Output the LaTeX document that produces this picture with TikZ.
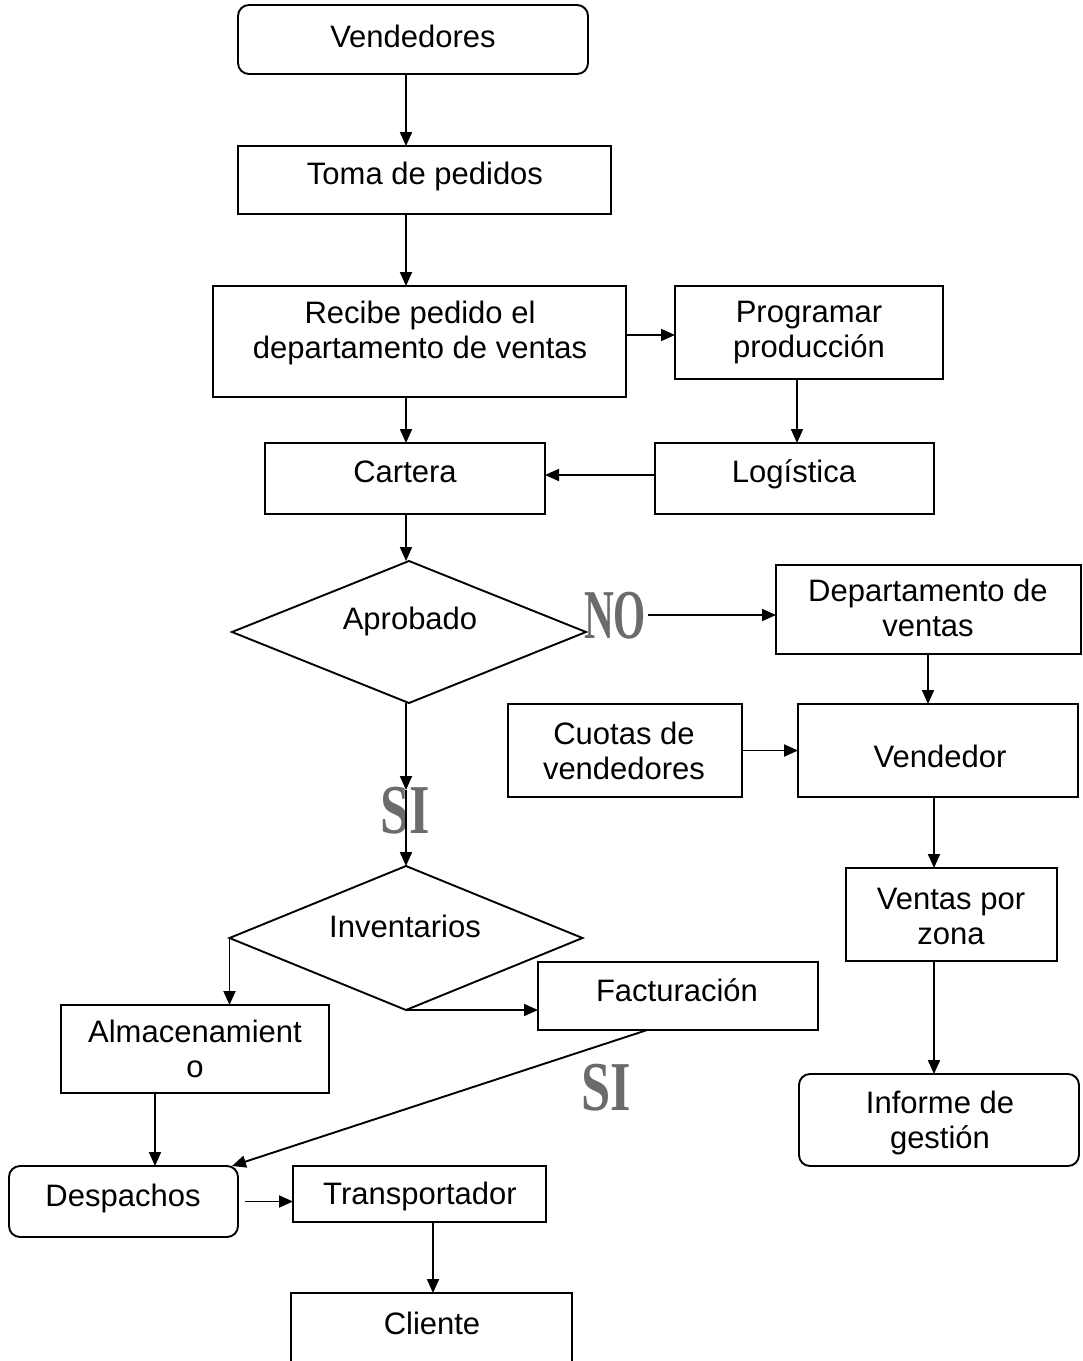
\documentclass[tikz,border=0pt]{standalone}
\usepackage{fontspec}
\usepackage{graphicx}
\setmainfont{Liberation Sans}
\newfontfamily\wafont{Liberation Serif}
\usetikzlibrary{arrows.meta,shapes.geometric,calc}
\newcommand\wart[2]{\scalebox{#2}[1]{#1}}
\begin{document}
\begin{tikzpicture}[x=1pt,y=-1pt,
  box/.style={draw, line width=1.9pt, rectangle, inner sep=0pt, outer sep=0pt},
  rbox/.style={box, rounded corners=11pt},
  dia/.style={draw, line width=1.9pt, diamond, inner sep=0pt, outer sep=0pt},
  txt/.style={font=\fontsize{31}{35}\selectfont, align=center, inner sep=0pt},
  arr/.style={-{Triangle[length=14pt,width=12pt]}, line width=1.9pt},
  wa/.style={font=\wafont\bfseries\fontsize{70}{70}\selectfont, inner sep=0pt, text=black!58}]
\useasboundingbox (0,0) rectangle (1083,1361);
\clip (0,0) rectangle (1083,1361);
\fill[white] (0,0) rectangle (1083,1361);

% boxes
\node[rbox, minimum width=350, minimum height=69] (ven) at (413,39.5) {};
\node[box, minimum width=373, minimum height=68] (tom) at (424.5,180) {};
\node[box, minimum width=413, minimum height=111] (rec) at (419.5,341.5) {};
\node[box, minimum width=268, minimum height=93] (pro) at (809,332.5) {};
\node[box, minimum width=280, minimum height=71] (car) at (405,478.5) {};
\node[box, minimum width=279, minimum height=71] (log) at (794.5,478.5) {};
\node[dia, minimum width=354, minimum height=142] (apr) at (409,632) {};
\node[box, minimum width=305, minimum height=89] (dep) at (928.5,609.5) {};
\node[box, minimum width=234, minimum height=93] (cuo) at (625,750.5) {};
\node[box, minimum width=280, minimum height=93] (vdr) at (938,750.5) {};
\node[box, minimum width=211, minimum height=93] (vzo) at (951.5,914.5) {};
\node[dia, minimum width=353, minimum height=144] (inv) at (406,938) {};
\node[box, minimum width=280, minimum height=68] (fac) at (678,996) {};
\node[box, minimum width=268, minimum height=88] (alm) at (195,1049) {};
\node[rbox, minimum width=280, minimum height=92] (inf) at (939,1120) {};
\node[rbox, minimum width=229, minimum height=71] (des) at (123.5,1201.5) {};
\node[box, minimum width=253, minimum height=56] (tra) at (419.5,1194) {};
\node[box, minimum width=281, minimum height=107] (cli) at (431.5,1346.5) {};

% texts
\node[txt] (t-ven) at (413,36) {Vendedores};
\node[txt] (t-tom) at (425,176) {Toma de pedidos};
\node[txt] (t-rec) at (420,333) {Recibe pedido el\\departamento de ventas};
\node[txt] (t-pro) at (809,333) {Programar\\producción};
\node[txt] (t-car) at (405,472) {Cartera};
\node[txt] (t-log) at (794,474) {Logística};
\node[txt] (t-apr) at (410,621) {Aprobado};
\node[txt] (t-dep) at (928,608) {Departamento de\\ventas};
\node[txt] (t-cuo) at (624,751) {Cuotas de\\vendedores};
\node[txt] (t-vdr) at (940,756) {Vendedor};
\node[txt] (t-vzo) at (951,916) {Ventas por\\zona};
\node[txt] (t-inv) at (405,926) {Inventarios};
\node[txt] (t-fac) at (677,990) {Facturación};
\node[txt] (t-alm) at (195,1049) {Almacenamient\\o};
\node[txt] (t-inf) at (940,1123) {Informe de\\gestión};
\node[txt] (t-des) at (123,1198) {Despachos};
\node[txt] (t-tra) at (420,1196) {Transportador};
\node[txt] (t-cli) at (432,1323) {Cliente};

% word art
\node[wa] (no) at (615,616) {\wart{NO}{0.59}};
\node[wa] (si1) at (405,811) {\wart{SI}{0.75}};
\node[wa] (si2) at (606,1088) {\wart{SI}{0.75}};

% helper coordinates
\coordinate (c1) at (406,0);
\coordinate (c2) at (797,0);
\coordinate (c3) at (928,0);
\coordinate (c4) at (934,0);
\coordinate (c5) at (155,0);
\coordinate (c6) at (433,0);
\coordinate (r1) at (0,335);
\coordinate (r2) at (0,475);
\coordinate (noend) at (648,615);
\coordinate (simid) at (406,790);

% connectors
\draw[arr] (ven.south -| c1) -- (tom.north -| c1);
\draw[arr] (tom.south -| c1) -- (rec.north -| c1);
\draw[arr] (rec.east |- r1) -- (pro.west |- r1);
\draw[arr] (rec.south -| c1) -- (car.north -| c1);
\draw[arr] (pro.south -| c2) -- (log.north -| c2);
\draw[arr] (log.west |- r2) -- (car.east |- r2);
\draw[arr] (car.south -| c1) -- (apr.north -| c1);
\draw[arr] (noend) -- (noend -| dep.west);
\draw[arr] (apr.south -| c1) -- (simid);
\draw[arr] (simid) -- (inv.north -| c1);
\draw[arr] (dep.south -| c3) -- (vdr.north -| c3);
\draw[arr] (cuo.east) -- (cuo.east -| vdr.west);
\draw[arr] (vdr.south -| c4) -- (vzo.north -| c4);
\draw[arr] (vzo.south -| c4) -- (inf.north -| c4);
\draw[arr] (inv.west) -- (inv.west |- alm.north);
\draw[arr] (inv.south) -- (inv.south -| fac.west);
\draw[arr] (alm.south -| c5) -- (des.north -| c5);
\draw[arr] ($(fac.south west)!0.39!(fac.south east)$) -- ($(des.north east)+(-6,0)$);
\draw[arr] ($(des.east)+(7,0)$) -- (des.east -| tra.west);
\draw[arr] (tra.south -| c6) -- (cli.north -| c6);
\end{tikzpicture}
\end{document}
